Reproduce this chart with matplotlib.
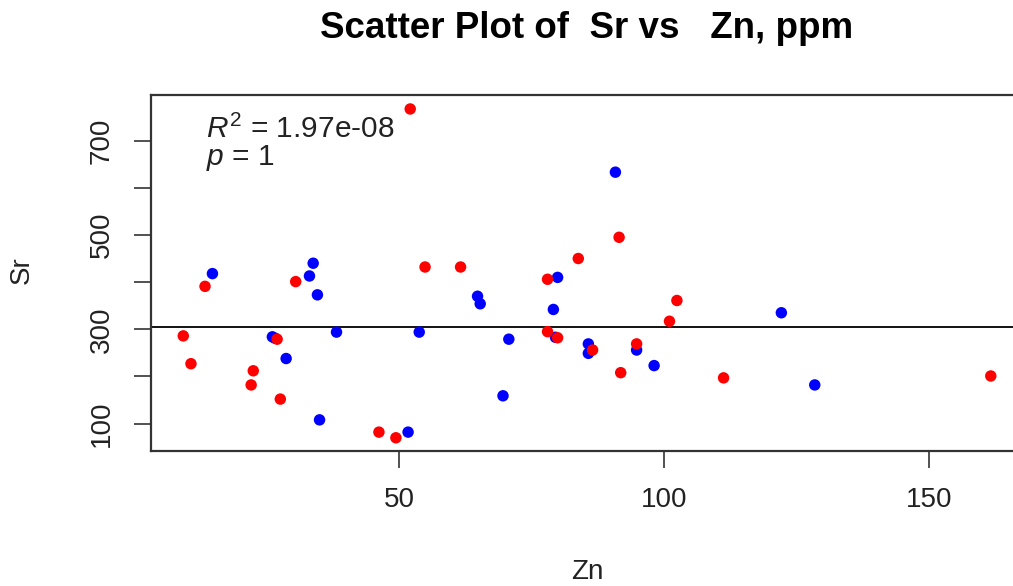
import numpy as np
import matplotlib.pyplot as plt

plt.rcParams['font.family'] = 'Liberation Sans'
plt.rcParams['mathtext.fontset'] = 'custom'
plt.rcParams['mathtext.rm'] = 'Liberation Sans'
plt.rcParams['mathtext.it'] = 'Liberation Sans:italic'

# group 1 (red)
zn_red = [52.1, 54.9, 30.5, 13.4, 9.3, 10.75, 27.0, 22.5, 22.1, 27.6, 46.2, 49.4, 91.5,
          83.8, 61.6, 78.0, 102.4, 101.0, 78.0, 79.9, 86.5, 94.8, 91.8, 111.2, 161.6]
sr_red = [767, 432, 401, 391, 286, 227, 279, 212, 182, 152, 82, 70, 495,
          450, 432, 406, 361, 317, 295, 282, 256, 269, 208, 197, 201]

# group 2 (blue)
zn_blue = [14.8, 33.8, 33.1, 34.6, 26.1, 26.6, 28.7, 35.0, 38.2, 51.7, 53.8, 90.8, 79.9,
           64.8, 65.3, 79.1, 70.7, 79.5, 85.7, 85.7, 94.8, 98.1, 69.6, 122.1, 128.4]
sr_blue = [418, 440, 413, 373, 284, 281, 238, 108, 294, 82, 294, 633, 410,
           370, 354, 342, 279, 283, 269, 249, 256, 223, 159, 335, 182]

fig = plt.figure(figsize=(10.13, 5.86), dpi=100)
ax = fig.add_axes([0.149, 0.2304, 0.861, 0.607])  # right edge runs off the figure

ax.scatter(zn_blue, sr_blue, c='blue', edgecolor='none', s=68, zorder=3)
ax.scatter(zn_red, sr_red, c='red', edgecolor='none', s=68, zorder=3)

# mean line
ax.axhline(np.mean(sr_red + sr_blue), color='black', lw=1.3, zorder=2)

ax.set_xlim(3.2, 167.7)
ax.set_ylim(42, 796)
ax.set_xticks([50, 100, 150])
ax.set_yticks([100, 200, 300, 400, 500, 600, 700])
ax.set_yticklabels(['100', '', '300', '', '500', '', '700'], rotation=90, va='center')
ax.tick_params(length=12, width=1.1, labelsize=20, pad=14, colors='#222222')
for sp in ax.spines.values():
    sp.set_linewidth(1.6)
    sp.set_color('#333333')

ax.text(0.063, 0.946, r'$R^2$ = 1.97e-08', transform=ax.transAxes, fontsize=21.5, va='top', color='#222222')
ax.text(0.063, 0.866, r'$p$ = 1', transform=ax.transAxes, fontsize=21.5, va='top', color='#222222')

fig.text(0.5795, 0.952, 'Scatter Plot of  Sr vs   Zn, ppm', ha='center', va='center',
         fontsize=26.5, fontweight='bold')
fig.text(0.5795, 0.024, 'Zn', ha='center', va='center', fontsize=20, color='#222222')
fig.text(0.0217, 0.539, 'Sr', ha='center', va='center', rotation=90, fontsize=20, color='#222222')

fig.savefig('out.png', dpi=100)
